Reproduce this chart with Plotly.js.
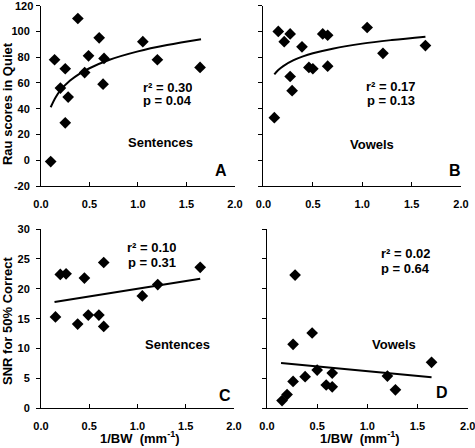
<!DOCTYPE html>
<html><head><meta charset="utf-8">
<script src="https://cdn.plot.ly/plotly-3.0.1.min.js"></script>
<style>html,body{margin:0;padding:0;background:#fff}#chart{width:475px;height:448px}</style>
</head><body><div id="chart"></div>
<script>
// Panel A: Sentences, Rau scores in quiet
const xA = [0.10,0.14,0.20,0.25,0.25,0.28,0.38,0.45,0.49,0.60,0.65,0.64,1.05,1.20,1.64];
const yA = [-1,78,56,71,29,49,110,68,81,95,79,59,92,78,72];
const fitXA = [0.10,0.15,0.20,0.30,0.40,0.50,0.70,1.00,1.30,1.65];
const fitYA = [41.1,48.7,54.2,61.8,67.2,71.4,77.8,84.5,89.4,93.9];
// Panel B: Vowels, Rau scores in quiet
const xB = [0.11,0.15,0.21,0.27,0.27,0.29,0.39,0.46,0.50,0.60,0.65,0.65,1.05,1.21,1.64];
const yB = [33,100,92,98,65,54,88,72,71,98,97,73,103,83,89];
const fitXB = [0.11,0.15,0.20,0.30,0.40,0.50,0.70,1.00,1.30,1.64];
const fitYB = [66.6,70.0,73.1,77.5,80.6,83.0,86.6,90.5,93.3,95.9];
// Panel C: Sentences, SNR for 50% correct
const xC = [0.15,0.20,0.26,0.38,0.45,0.49,0.60,0.65,0.65,1.05,1.21,1.65];
const yC = [15.3,22.4,22.5,14.1,21.8,15.6,15.6,24.4,13.7,18.8,20.7,23.6];
const fitXC = [0.14,1.65];
const fitYC = [17.8,21.7];
// Panel D: Vowels, SNR for 50% correct
const xD = [0.15,0.20,0.26,0.26,0.28,0.38,0.45,0.50,0.59,0.65,0.65,1.20,1.28,1.64];
const yD = [1.3,2.3,4.5,10.7,22.3,5.3,12.6,6.4,3.9,5.9,3.6,5.4,3.1,7.7];
const fitXD = [0.14,1.64];
const fitYD = [7.6,5.2];

const xTickVals = [0,0.5,1,1.5,2];
const yTickTop = [-20,0,20,40,60,80,100,120];
const yTickTopText = ['-20','0','20','40','60','80','100',''];
const yTopLabel = '120';
const yTickBot = [0,5,10,15,20,25,30];
const stats = {A:['r² = 0.30','p = 0.04'], B:['r² = 0.17','p = 0.13'], C:['r² = 0.10','p = 0.31'], D:['r² = 0.02','p = 0.64']};
const labels = {A:'Sentences', B:'Vowels', C:'Sentences', D:'Vowels'};

const FONT = 'Liberation Sans, Arial, sans-serif';
const mk = {symbol:'diamond', size:9, color:'#000'};
function pts(x,y,ax,ay){return {x:x,y:y,xaxis:ax,yaxis:ay,type:'scatter',mode:'markers',marker:mk,hoverinfo:'none',cliponaxis:false};}
function fit(x,y,ax,ay,shape){return {x:x,y:y,xaxis:ax,yaxis:ay,type:'scatter',mode:'lines',line:{color:'#000',width:2,shape:shape,smoothing:1},hoverinfo:'none'};}

const data = [
  fit(fitXA,fitYA,'x','y','spline'), pts(xA,yA,'x','y'),
  fit(fitXB,fitYB,'x2','y2','spline'), pts(xB,yB,'x2','y2'),
  fit(fitXC,fitYC,'x3','y3','linear'), pts(xC,yC,'x3','y3'),
  fit(fitXD,fitYD,'x4','y4','linear'), pts(xD,yD,'x4','y4')
];

const tf = {family:FONT,size:11,color:'#000',weight:'bold'};
function xax(dom,anchor,so){return {domain:dom,anchor:anchor,range:[0,2.0001],tickvals:xTickVals,tickformat:'.1f',showline:true,linecolor:'#000',linewidth:1,ticks:'inside',ticklen:4,tickcolor:'#000',showgrid:false,zeroline:false,tickfont:tf,ticklabelstandoff:so,ticklabeloverflow:'allow',fixedrange:true};}
function yax(dom,anchor,range,tv,labels,tt){const o={domain:dom,anchor:anchor,range:range,tickvals:tv,showline:true,linecolor:'#000',linewidth:1,ticks:'outside',ticklen:4,tickcolor:'#000',showgrid:false,zeroline:false,tickfont:tf,showticklabels:labels,ticklabelstandoff:4,ticklabeloverflow:'allow',fixedrange:true}; if(tt) o.ticktext=tt; return o;}

const topDom=[0.5848,0.9875], botDom=[0.0886,0.4888];
const af = {family:FONT,size:13,color:'#000',weight:'bold'};
const bf = {family:FONT,size:16,color:'#000',weight:'bold'};
function ann(text,x,y,xr,yr,font){return {text:text,x:x,y:y,xref:xr,yref:yr,showarrow:false,font:font||af,xanchor:'center',yanchor:'middle'};}
function sann(text,x,y,xr,yr){return Object.assign(ann(text,x,y,xr,yr),{height:13});}

const annotations = [
  Object.assign(ann(yTopLabel,0.0863,120,'paper','y',tf),{xanchor:'right',xshift:-7,borderpad:0}),
  sann(stats.A[0],1.309,56.6,'x','y'), sann(stats.A[1],1.309,46.0,'x','y'),
  ann(labels.A,1.234,13.5,'x','y'), ann('A',1.853,-7.6,'x','y',bf),
  sann(stats.B[0],1.291,57.3,'x2','y2'), sann(stats.B[1],1.291,46.5,'x2','y2'),
  ann(labels.B,1.096,12.5,'x2','y2'), ann('B',1.939,-7.6,'x2','y2',bf),
  sann(stats.C[0],1.147,26.9,'x3','y3'), sann(stats.C[1],1.147,24.4,'x3','y3'),
  ann(labels.C,1.417,10.6,'x3','y3'), ann('C',1.907,2.1,'x3','y3',bf),
  sann(stats.D[0],1.382,25.9,'x4','y4'), sann(stats.D[1],1.382,23.4,'x4','y4'),
  ann(labels.D,1.266,10.6,'x4','y4'), ann('D',1.741,2.6,'x4','y4',bf),
  Object.assign(ann('Rau scores in Quiet',0.0147,0.770,'paper','paper'),{textangle:-90}),
  Object.assign(ann('SNR for 50% Correct',0.0147,0.2857,'paper','paper'),{textangle:-90}),
  Object.assign(ann('1/BW&nbsp;&nbsp;(mm<sup>-1</sup>)',0.2947,0.0,'paper','paper'),{yanchor:'bottom',height:17}),
  Object.assign(ann('1/BW&nbsp;&nbsp;(mm<sup>-1</sup>)',0.758,0.0,'paper','paper'),{yanchor:'bottom',height:17})
];

const layout = {
  width:475,height:448,margin:{l:0,r:0,t:0,b:0},
  paper_bgcolor:'#fff',plot_bgcolor:'#fff',showlegend:false,
  font:{family:FONT,color:'#000'},
  xaxis:xax([0.0863,0.4947],'y',8), yaxis:yax(topDom,'x',[-20,120.01],yTickTop,true,yTickTopText),
  xaxis2:xax([0.5547,0.9705],'y2',8), yaxis2:yax(topDom,'x2',[-20,120.01],yTickTop,false),
  xaxis3:xax([0.0863,0.4926],'y3',7), yaxis3:yax(botDom,'x3',[0,30.005],yTickBot,true),
  xaxis4:xax([0.5621,0.9846],'y4',7), yaxis4:yax(botDom,'x4',[0,30.005],yTickBot,false),
  annotations:annotations
};
Plotly.newPlot('chart',data,layout,{displayModeBar:false,staticPlot:true});
</script></body></html>
